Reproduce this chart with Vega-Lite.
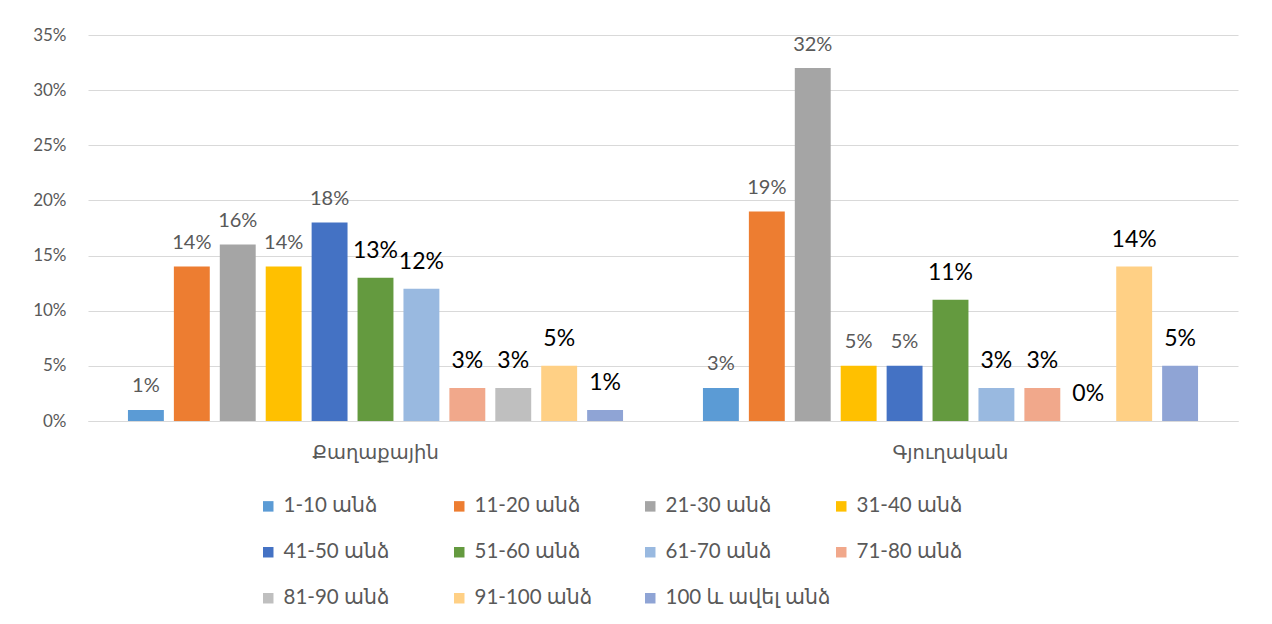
{
  "$schema": "https://vega.github.io/schema/vega-lite/v6.json",
  "autosize": {"type": "none"},
  "width": 1150,
  "height": 386,
  "padding": {"left": 88, "top": 35, "right": 34, "bottom": 203},
  "background": "white",
  "config": {
    "view": {"stroke": null},
    "font": "Lato, DejaVu Sans, sans-serif"
  },
  "data": {
    "values": [
      {"group": "Քաղաքային", "series": "1-10 անձ", "value": 0.01},
      {"group": "Քաղաքային", "series": "11-20 անձ", "value": 0.14},
      {"group": "Քաղաքային", "series": "21-30 անձ", "value": 0.16},
      {"group": "Քաղաքային", "series": "31-40 անձ", "value": 0.14},
      {"group": "Քաղաքային", "series": "41-50 անձ", "value": 0.18},
      {"group": "Քաղաքային", "series": "51-60 անձ", "value": 0.13},
      {"group": "Քաղաքային", "series": "61-70 անձ", "value": 0.12},
      {"group": "Քաղաքային", "series": "71-80 անձ", "value": 0.03},
      {"group": "Քաղաքային", "series": "81-90 անձ", "value": 0.03},
      {"group": "Քաղաքային", "series": "91-100 անձ", "value": 0.05},
      {"group": "Քաղաքային", "series": "100 և ավել անձ", "value": 0.01},
      {"group": "Գյուղական", "series": "1-10 անձ", "value": 0.03},
      {"group": "Գյուղական", "series": "11-20 անձ", "value": 0.19},
      {"group": "Գյուղական", "series": "21-30 անձ", "value": 0.32},
      {"group": "Գյուղական", "series": "31-40 անձ", "value": 0.05},
      {"group": "Գյուղական", "series": "41-50 անձ", "value": 0.05},
      {"group": "Գյուղական", "series": "51-60 անձ", "value": 0.11},
      {"group": "Գյուղական", "series": "61-70 անձ", "value": 0.03},
      {"group": "Գյուղական", "series": "71-80 անձ", "value": 0.03},
      {"group": "Գյուղական", "series": "81-90 անձ", "value": 0.0},
      {"group": "Գյուղական", "series": "91-100 անձ", "value": 0.14},
      {"group": "Գյուղական", "series": "100 և ավել անձ", "value": 0.05}
    ]
  },
  "encoding": {
    "x": {
      "field": "group", "type": "nominal",
      "sort": ["Քաղաքային", "Գյուղական"],
      "scale": {"paddingInner": 0, "paddingOuter": 0},
      "axis": {"title": null, "labelAngle": 0, "ticks": false, "domainColor": "#D9D9D9", "labelFontSize": 19.5, "labelColor": "#595959", "labelPadding": 22, "labelBaseline": "top"}
    },
    "xOffset": {
      "field": "series", "type": "nominal",
      "sort": ["1-10 անձ", "11-20 անձ", "21-30 անձ", "31-40 անձ", "41-50 անձ", "51-60 անձ", "61-70 անձ", "71-80 անձ", "81-90 անձ", "91-100 անձ", "100 և ավել անձ"],
      "scale": {"paddingInner": 0.218, "paddingOuter": 0.87}
    },
    "y": {
      "field": "value", "type": "quantitative",
      "scale": {"domain": [0, 0.35]},
      "axis": {"title": null, "format": ".0%", "values": [0, 0.05, 0.1, 0.15, 0.2, 0.25, 0.3, 0.35], "domain": false, "ticks": false, "gridColor": "#D9D9D9", "labelFontSize": 17, "labelColor": "#595959", "labelPadding": 22}
    }
  },
  "layer": [
    {
      "mark": {"type": "bar"},
      "encoding": {
        "color": {
          "field": "series", "type": "nominal",
          "sort": ["1-10 անձ", "11-20 անձ", "21-30 անձ", "31-40 անձ", "41-50 անձ", "51-60 անձ", "61-70 անձ", "71-80 անձ", "81-90 անձ", "91-100 անձ", "100 և ավել անձ"],
          "scale": {
            "domain": ["1-10 անձ", "11-20 անձ", "21-30 անձ", "31-40 անձ", "41-50 անձ", "51-60 անձ", "61-70 անձ", "71-80 անձ", "81-90 անձ", "91-100 անձ", "100 և ավել անձ"],
            "range": ["#5B9BD5", "#ED7D31", "#A5A5A5", "#FFC000", "#4472C4", "#649A3F", "#99B9E0", "#F1A88B", "#BFBFBF", "#FFD085", "#8FA4D5"]
          },
          "legend": {
            "title": null,
            "orient": "none",
            "legendX": 170,
            "legendY": 461,
            "direction": "horizontal",
            "columns": 4,
            "gridAlign": "all",
            "symbolType": "square",
            "symbolSize": 110,
            "symbolStrokeWidth": 0,
            "labelFontSize": 20.5,
            "labelColor": "#595959",
            "labelOffset": 5,
            "labelLimit": 300,
            "columnPadding": 0,
            "rowPadding": 25
          }
        }
      }
    },
    {
      "transform": [{"filter": "indexof(['51-60 անձ','61-70 անձ','71-80 անձ','81-90 անձ','91-100 անձ','100 և ավել անձ'], datum.series) < 0"}],
      "mark": {"type": "text", "baseline": "alphabetic", "dy": -17.5, "fontSize": 20, "color": "#595959"},
      "encoding": {"text": {"field": "value", "type": "quantitative", "format": ".0%"}}
    },
    {
      "transform": [{"filter": "indexof(['51-60 անձ','61-70 անձ','71-80 անձ','81-90 անձ','91-100 անձ','100 և ավել անձ'], datum.series) >= 0"}],
      "mark": {"type": "text", "baseline": "alphabetic", "dy": -20, "fontSize": 23, "color": "#000000"},
      "encoding": {"text": {"field": "value", "type": "quantitative", "format": ".0%"}}
    }
  ]
}
